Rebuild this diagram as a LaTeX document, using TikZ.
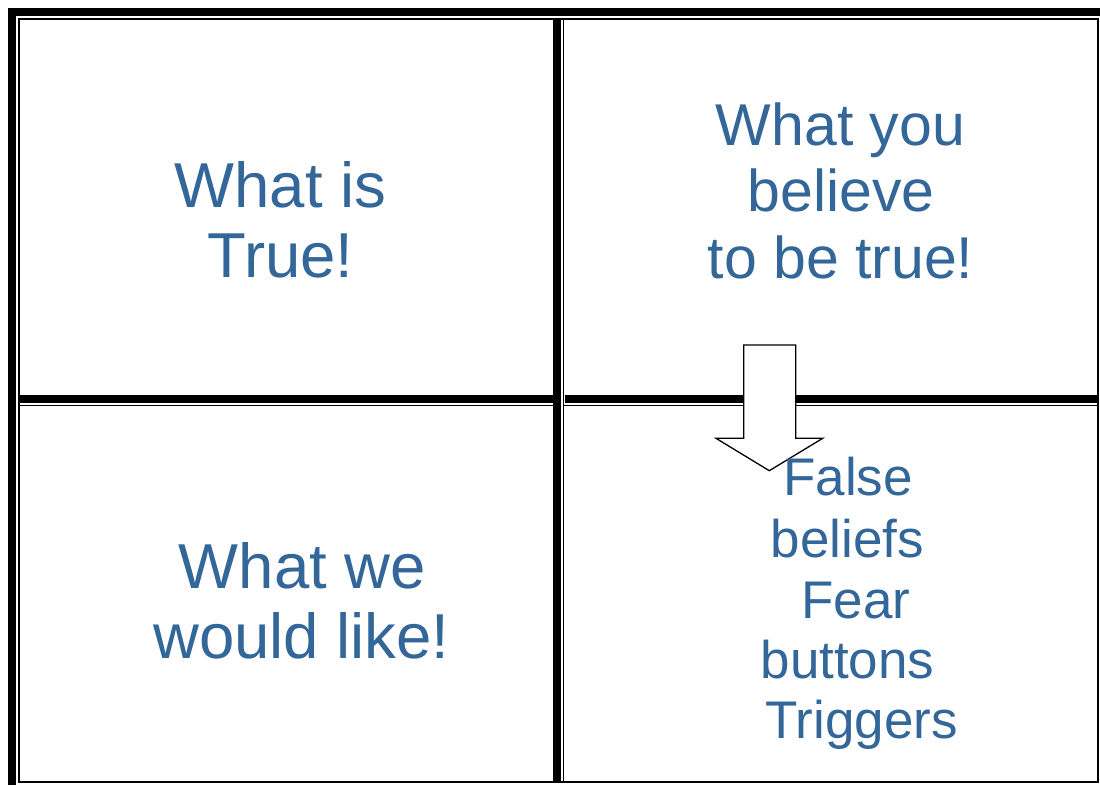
\documentclass[tikz,border=0pt]{standalone}
\usepackage{fontspec}
\setmainfont{Liberation Sans}
\definecolor{txtblue}{RGB}{51,102,153}
\begin{document}
\begin{tikzpicture}[x=1pt,y=-1pt,
  thick bar/.style={fill=black},
  thin bar/.style={fill=black},
  lbl/.style={anchor=base,inner sep=0pt,text=txtblue},
  bigA/.style={lbl,font=\fontsize{63.5}{70}\selectfont},
  bigB/.style={lbl,font=\fontsize{59}{66}\selectfont},
  bigC/.style={lbl,font=\fontsize{63.5}{70}\selectfont},
  small/.style={lbl,font=\fontsize{53}{61}\selectfont},
  blockarrow/.style={draw=black,fill=white,line width=1.3pt,line join=miter}]
\useasboundingbox (0,0) rectangle (1100,785);
\fill[white] (0,0) rectangle (1100,785);
% thick outer/inner bars
\fill[thick bar] (8,8) rectangle (16,785);
\fill[thick bar] (8,8) rectangle (1100,16);
\fill[thick bar] (553,20) rectangle (561,782);
\fill[thick bar] (20,395) rectangle (553,403);
\fill[thick bar] (565,395) rectangle (1097,403);
% thin cell borders
\fill[thin bar] (18,18) rectangle (1099,20);
\fill[thin bar] (18,18) rectangle (20,783);
\fill[thin bar] (1097,18) rectangle (1099,783);
\fill[thin bar] (18,781) rectangle (1099,783);
\fill[thin bar] (562.5,18) rectangle (564.2,783);
\fill[thin bar] (20,404.5) rectangle (553,406);
\fill[thin bar] (564,404.5) rectangle (1097,406);
% block arrow
\draw[blockarrow] (743.7,345) -- (795.7,345) -- (795.7,438.3) -- (822.7,438.3)
  -- (769.3,470.7) -- (716,438.3) -- (743.7,438.3) -- cycle;
% texts
\node[bigA] (tl1) at (280.5,207) {What is};
\node[bigA] (tl2) at (280.5,277) {True!};
\node[bigB] (tr1) at (840.5,145) {What you};
\node[bigB] (tr2) at (841,211) {believe};
\node[bigB] (tr3) at (840.5,278) {to be true!};
\node[bigC] (bl1) at (302.5,588) {What we};
\node[bigC] (bl2) at (301.5,658) {would like!};
\node[small] (br1) at (848,495) {False};
\node[small] (br2) at (847.5,557) {beliefs};
\node[small] (br3) at (856,618) {Fear};
\node[small] (br4) at (847.5,678) {buttons};
\node[small] (br5) at (861.5,738) {Triggers};
\end{tikzpicture}
\end{document}
